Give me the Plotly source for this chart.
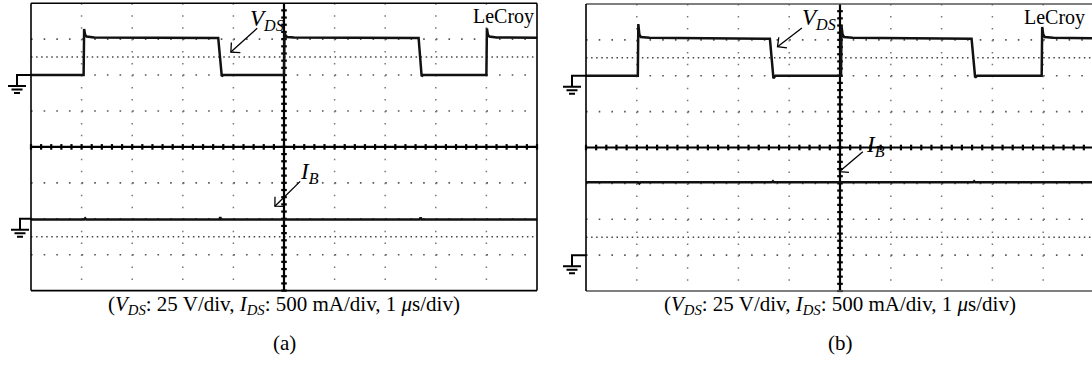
import math
import numpy as np
import plotly.graph_objects as go

# ---------------- data (time in us, V_DS in V, I_B in mA) ----------------
VDS_SCALE = 25.0     # V/div
IB_SCALE = 500.0     # mA/div

# panel (a)
T_VDS_A = [0, 1.04, 1.05, 1.07, 1.10, 1.25, 3.70, 3.74, 3.77, 3.80,
           5.00, 5.01, 5.03, 5.06, 5.20, 7.66, 7.69, 7.72, 7.75,
           9.00, 9.01, 9.03, 9.06, 9.20, 10.0]
VDS_A = [0, 0, 32.0, 28.0, 26.8, 26.2, 25.8, 12.5, -0.8, 0,
         0, 30.0, 27.5, 26.5, 26.2, 25.8, 12.5, -0.8, 0,
         0, 32.5, 28.0, 26.8, 26.2, 26.0]
T_IB_A = [0, 1.05, 1.07, 1.09, 3.72, 3.74, 3.76, 7.68, 7.70, 7.72, 10.0]
IB_A = [-10, -10, 5, -10, -10, 20, -10, -10, 15, -10, -10]

# panel (b)
T_VDS_B = [0, 1.02, 1.03, 1.05, 1.08, 1.25, 3.62, 3.66, 3.69, 3.73,
           5.02, 5.03, 5.05, 5.08, 5.25, 7.59, 7.63, 7.66, 7.70,
           8.97, 8.98, 9.00, 9.03, 9.20, 9.96]
VDS_B = [0, 0, 36.0, 28.8, 27.0, 26.5, 25.8, 12.5, -1.8, 0,
         0, 34.5, 28.8, 27.0, 26.5, 25.8, 12.5, -1.2, 0,
         0, 34.0, 28.8, 27.0, 26.5, 26.2]
T_IB_B = [0, 1.03, 1.05, 1.07, 3.66, 3.68, 3.70, 7.62, 7.64, 7.66, 9.96]
IB_B = [1015, 1015, 1000, 1015, 1015, 1030, 1015, 1015, 1030, 1015, 1015]

# ground-marker positions (in divisions from screen centre)
VDS_GND_A, IB_GND_A = 2.0, -2.0
VDS_GND_B, IB_GND_B = 2.0, -3.0

CAPTION = ("(<i>V</i><sub><i>DS</i></sub>: 25 V/div, <i>I</i><sub><i>DS</i></sub>: "
           "500 mA/div, 1 <i>\u03bc</i>s/div)")
LABEL_VDS = "<i>V</i><sub><i>DS</i></sub>"
LABEL_IB = "<i>I</i><sub><i>B</i></sub>"
BRAND = "LeCroy"
PANEL_TAGS = ["(a)", "(b)"]

# ---------------- layout geometry ----------------
W, H = 1092, 372
FONT = "Liberation Serif"

panels = [
    dict(xa="x", ya="y", xdom=[31 / W, 537 / W], ydom=[1 - 290.6 / H, 1 - 3.2 / H],
         xr=[0, 10.0], pxdiv=50.6, pydiv=35.9,
         tv=T_VDS_A, v=VDS_A, ti=T_IB_A, i=IB_A, vg=VDS_GND_A, ig=IB_GND_A,
         border="black", right_border=True,
         vds_arrow=(3.95, 2.64, 4.47, 3.30), vds_lab=(4.29, 3.99),
         ib_arrow=(4.82, -1.65, 5.32, -0.96), ib_lab=(5.28, -0.27),
         brand_x=9.99, stub=(14, 11), tag=PANEL_TAGS[0]),
    dict(xa="x2", ya="y2", xdom=[586 / W, 1.0], ydom=[1 - 291 / H, 1 - 4 / H],
         xr=[0, (W - 586) / 50.8], pxdiv=50.8, pydiv=35.9,
         tv=T_VDS_B, v=VDS_B, ti=T_IB_B, i=IB_B, vg=VDS_GND_B, ig=IB_GND_B,
         border="#555555", right_border=False,
         vds_arrow=(3.77, 2.81, 4.25, 3.33), vds_lab=(4.22, 4.03),
         ib_arrow=(4.99, -0.67, 5.45, -0.12), ib_lab=(5.47, 0.49),
         brand_x=9.87, stub=(14, 14), tag=PANEL_TAGS[1]),
]


def arrow(xa, ya, head, tail, pxdiv, pydiv, length=9.5, ang=45):
    dx = (tail[0] - head[0]) * pxdiv
    dy = (tail[1] - head[1]) * pydiv
    n = math.hypot(dx, dy)
    ux, uy = dx / n, dy / n
    pts = []
    for s in (1, -1):
        a = math.radians(ang * s)
        rx = ux * math.cos(a) - uy * math.sin(a)
        ry = ux * math.sin(a) + uy * math.cos(a)
        pts.append((rx * length, ry * length))
    path = "M%.2f,%.2f L0,0 L%.2f,%.2f" % (pts[0][0], pts[0][1], pts[1][0], pts[1][1])
    return [
        dict(type="line", xref=xa, yref=ya, x0=tail[0], y0=tail[1], x1=head[0], y1=head[1],
             line=dict(color="black", width=1.3)),
        dict(type="path", xref=xa, yref=ya, xsizemode="pixel", ysizemode="pixel",
             xanchor=head[0], yanchor=head[1], path=path,
             line=dict(color="black", width=1.3)),
    ]


fig = go.Figure()
shapes = []
annotations = []
layout_axes = {}

for k, p in enumerate(panels):
    xa, ya = p["xa"], p["ya"]
    xname = "xaxis" if xa == "x" else "xaxis2"
    yname = "yaxis" if ya == "y" else "yaxis2"
    layout_axes[xname] = dict(domain=p["xdom"], range=p["xr"], visible=False,
                              anchor=ya, fixedrange=True)
    layout_axes[yname] = dict(domain=p["ydom"], range=[-4, 4], visible=False,
                              anchor=xa, fixedrange=True)
    xd, yd = xa + " domain", ya + " domain"

    px, py = p["pxdiv"], p["pydiv"]
    row_dash = "1.6px,%.2fpx" % (px / 4 - 1.6)
    col_dash = "1.5px,%.2fpx" % (py / 3 - 1.5)
    dense_dash = "1.5px,%.2fpx" % (px / 10 - 1.5)

    # dotted graticule rows
    for r in [-3, -2, -1, 1, 2, 3]:
        shapes.append(dict(type="line", xref=xd, yref=ya, x0=0, x1=1, y0=r, y1=r,
                           line=dict(color="#555555", width=1.6, dash=row_dash),
                           layer="below"))
    for r in [-2.5, 2.5]:
        shapes.append(dict(type="line", xref=xd, yref=ya, x0=0, x1=1, y0=r, y1=r,
                           line=dict(color="#444444", width=1.5, dash=dense_dash),
                           layer="below"))
    # dotted graticule columns
    for c in [1, 2, 3, 4, 6, 7, 8, 9]:
        shapes.append(dict(type="line", xref=xa, yref=yd, x0=c, x1=c, y0=1, y1=0,
                           line=dict(color="#777777", width=1.5, dash=col_dash),
                           layer="below"))
    # centre axes
    shapes.append(dict(type="line", xref=xd, yref=ya, x0=0, x1=1, y0=0, y1=0,
                       line=dict(color="black", width=2.2), layer="below"))
    shapes.append(dict(type="line", xref=xa, yref=yd, x0=5, x1=5, y0=0, y1=1,
                       line=dict(color="black", width=2.2), layer="below"))
    # borders
    bc = p["border"]
    shapes.append(dict(type="line", xref=xd, yref=yd, x0=0, x1=1, y0=1, y1=1,
                       line=dict(color=bc, width=1.6)))
    shapes.append(dict(type="line", xref=xd, yref=yd, x0=0, x1=1, y0=0, y1=0,
                       line=dict(color=bc, width=1.6)))
    shapes.append(dict(type="line", xref=xd, yref=yd, x0=0, x1=0, y0=0, y1=1,
                       line=dict(color="black", width=1.6)))
    if p["right_border"]:
        shapes.append(dict(type="line", xref=xd, yref=yd, x0=1, x1=1, y0=0, y1=1,
                           line=dict(color="black", width=1.6)))

    # ground markers
    for g, stub in [(p["vg"], p["stub"][0]), (p["ig"], p["stub"][1])]:
        path = ("M0,0 L-{s},0 L-{s},-11 M-{a},-11 L-{b},-11 "
                "M-{c},-14.5 L-{d},-14.5 M-{e},-18 L-{f},-18").format(
            s=stub, a=stub + 9, b=stub - 9, c=stub + 5.5, d=stub - 5.5,
            e=stub + 3, f=stub - 3)
        shapes.append(dict(type="path", xref=xd, yref=yd, xsizemode="pixel",
                           ysizemode="pixel", xanchor=0, yanchor=(g + 4) / 8,
                           path=path, line=dict(color="black", width=2)))

    # tick marks on centre axes
    tx = np.arange(0, 10.001, 0.2)
    tx = tx[tx <= p["xr"][1]]
    fig.add_trace(go.Scatter(x=tx, y=np.zeros_like(tx), mode="markers", xaxis=xa, yaxis=ya,
                             marker=dict(symbol="line-ns", size=4,
                                         line=dict(color="black", width=2.2)),
                             hoverinfo="skip", showlegend=False, cliponaxis=False))
    ty = np.arange(-4, 4.001, 0.2)
    fig.add_trace(go.Scatter(x=np.full_like(ty, 5.0), y=ty, mode="markers", xaxis=xa, yaxis=ya,
                             marker=dict(symbol="line-ew", size=4,
                                         line=dict(color="black", width=2.2)),
                             hoverinfo="skip", showlegend=False, cliponaxis=False))

    # waveforms
    fig.add_trace(go.Scatter(x=p["tv"], y=[p["vg"] + v / VDS_SCALE for v in p["v"]],
                             mode="lines", xaxis=xa, yaxis=ya,
                             line=dict(color="#111111", width=2.5),
                             hoverinfo="skip", showlegend=False))
    fig.add_trace(go.Scatter(x=p["ti"], y=[p["ig"] + i / IB_SCALE for i in p["i"]],
                             mode="lines", xaxis=xa, yaxis=ya,
                             line=dict(color="#111111", width=2.5),
                             hoverinfo="skip", showlegend=False))

    # arrows + labels
    for ar, (lx, ly), lab in [(p["vds_arrow"], p["vds_lab"], LABEL_VDS),
                              (p["ib_arrow"], p["ib_lab"], LABEL_IB)]:
        shapes.extend(arrow(xa, ya, ar[:2], ar[2:], px, py))
        annotations.append(dict(x=lx, y=(ly + 4) / 8, xref=xa, yref=yd, text=lab,
                                showarrow=False, xanchor="left", yanchor="top",
                                font=dict(family=FONT, size=23, color="black")))
    annotations.append(dict(x=p["brand_x"], y=1, xref=xa, yref=yd, text=BRAND,
                            showarrow=False, xanchor="right", yanchor="top",
                            font=dict(family=FONT, size=20, color="black")))
    # captions
    annotations.append(dict(x=5, y=1 - 305 / H, xref=xa, yref="paper", text=CAPTION,
                            showarrow=False, xanchor="center", yanchor="middle",
                            font=dict(family=FONT, size=21, color="black")))
    annotations.append(dict(x=5, y=1 - 343 / H, xref=xa, yref="paper", text=p["tag"],
                            showarrow=False, xanchor="center", yanchor="middle",
                            font=dict(family=FONT, size=21, color="black")))

fig.update_layout(width=W, height=H, margin=dict(l=0, r=0, t=0, b=0),
                  paper_bgcolor="white", plot_bgcolor="white",
                  shapes=shapes, annotations=annotations, showlegend=False,
                  **layout_axes)
fig.write_html("out.html", config=dict(displayModeBar=False))
